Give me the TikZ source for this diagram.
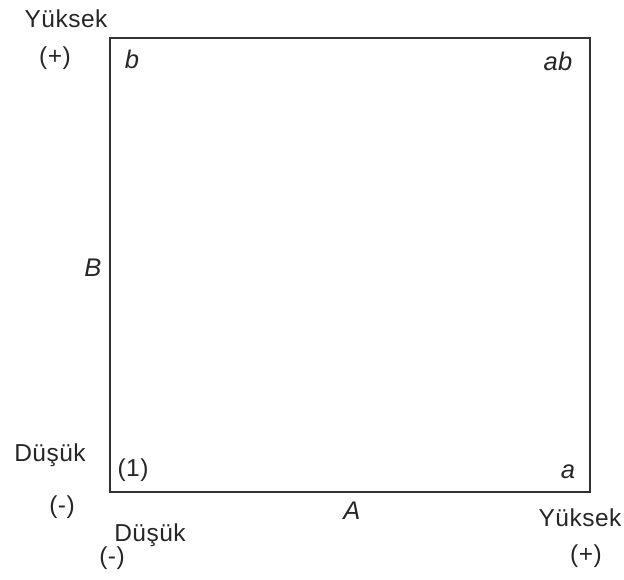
\documentclass[tikz,border=0pt]{standalone}
\usepackage{fontspec}
\setmainfont{Liberation Sans}[LetterSpace=2]
\usetikzlibrary{positioning}
\definecolor{frame}{HTML}{333333}

\begin{document}
\begin{tikzpicture}[x=1pt,y=-1pt,font=\fontsize{24.5}{28}\selectfont,
  lbl/.style={inner sep=0pt,text=black!85},
  fac/.style={inner sep=0pt,text=black!85,font=\fontsize{25.5}{29}\selectfont\itshape},
  grid/.style={draw=frame,line width=2pt,minimum width=480pt,minimum height=454pt,inner sep=0pt}]
\useasboundingbox (0,0) rectangle (624,579);
\node[grid] (box) at (350,265) {};
% corners of the design
\node[fac] (b) at (132,59) {b};
\node[fac] (ab) at (558,61) {ab};
\node[lbl] (one) at (133,470) {(1)};
\node[fac] (a) at (568,472) {a};
% factor names
\node[fac] (B) at (93,268) {B};
\node[fac] (A) at (352,511) {A};
% levels
\node[lbl] (hiB) at (66,19) {Yüksek};
\node[lbl] (hiBs) at (55,58) {(+)};
\node[lbl] (loB) at (50,455) {Düşük};
\node[lbl] (loBs) at (62,507) {(-)};
\node[lbl] (loA) at (150,535) {Düşük};
\node[lbl] (loAs) at (112,558) {(-)};
\node[lbl] (hiA) at (580,518) {Yüksek};
\node[lbl] (hiAs) at (586,556) {(+)};
\end{tikzpicture}
\end{document}
